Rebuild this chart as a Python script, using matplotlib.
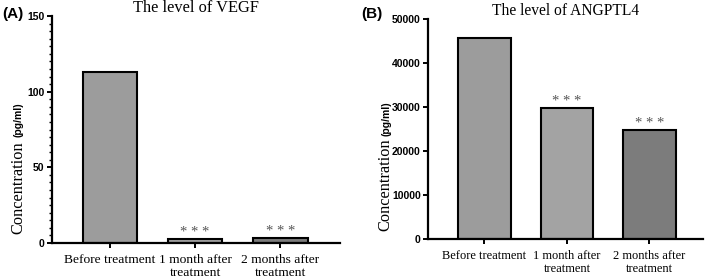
import matplotlib
matplotlib.use("Agg")
import matplotlib.pyplot as plt
from matplotlib.ticker import MultipleLocator

categories = ["Before treatment", "1 month after\ntreatment", "2 months after\ntreatment"]
vegf = [113.2, 2.8, 3.4]
angptl4 = [45700, 29800, 24800]
signif = ["", "* * *", "* * *"]
colors = ["#9c9c9c", "#a3a3a3", "#7c7c7c"]

W, H = 709, 280
fig = plt.figure(figsize=(W / 100, H / 100), dpi=100)

serif = "Liberation Serif"
sans = "Liberation Sans"


def make_axes(rect, values, ymax, major, minor, xlim, title, xfs, tfs, tpad):
    ax = fig.add_axes(rect)
    x = list(range(len(values)))
    ax.bar(x, values, width=0.64, color=colors, edgecolor="black", linewidth=1.5, zorder=2)
    ax.set_xlim(*xlim)
    ax.set_ylim(0, ymax)
    ax.set_xticks(x)
    ax.set_xticklabels(categories, fontfamily=serif, fontsize=xfs, linespacing=1.15)
    ax.yaxis.set_major_locator(MultipleLocator(major))
    if minor:
        ax.yaxis.set_minor_locator(MultipleLocator(minor))
    for lab in ax.get_yticklabels():
        lab.set_fontfamily(sans)
        lab.set_fontweight("bold")
        lab.set_fontsize(7.5)
    for s in ["top", "right"]:
        ax.spines[s].set_visible(False)
    for s in ["left", "bottom"]:
        ax.spines[s].set_linewidth(1.6)
    ax.tick_params(axis="both", which="major", length=3.8, width=1.4, pad=1.5)
    ax.tick_params(axis="y", which="minor", length=2.2, width=1.0)
    ax.tick_params(axis="x", pad=4)
    ax.set_title(title, fontfamily=serif, fontsize=tfs, pad=tpad)
    for xi, v, s in zip(x, values, signif):
        if s:
            ax.annotate(s, (xi, v), xytext=(0, 0), textcoords="offset points",
                        ha="center", va="bottom", fontfamily=serif, fontsize=10.5,
                        color="#555555")
    return ax


axA = make_axes([52 / W, 1 - 243 / H, 288 / W, 227 / H], vegf, 150, 50, 5,
                (-0.68, 2.70), "The level of VEGF", 9.7, 11.8, 0.0)
axB = make_axes([428 / W, 1 - 239 / H, 275 / W, 220 / H], angptl4, 50000, 10000, None,
                (-0.685, 2.65), "The level of ANGPTL4", 9.0, 11.2, 2.0)

# y labels
for xc, yb_conc, yb_unit in [(18, 234, 137), (385, 231, 136)]:
    fig.text(xc / W, 1 - yb_conc / H, "Concentration", rotation=90, ha="center", va="bottom",
             fontfamily=serif, fontsize=11.8)
    fig.text((xc + 1) / W, 1 - yb_unit / H, "(pg/ml)", rotation=90, ha="center", va="bottom",
             fontfamily=sans, fontweight="bold", fontsize=7.5)

# panel labels
fig.text(2 / W, 1 - 18 / H, "(A)", ha="left", va="baseline", fontfamily=sans,
         fontweight="bold", fontsize=11)
fig.text(361 / W, 1 - 18 / H, "(B)", ha="left", va="baseline", fontfamily=sans,
         fontweight="bold", fontsize=11)

fig.savefig("out.png", dpi=100)
